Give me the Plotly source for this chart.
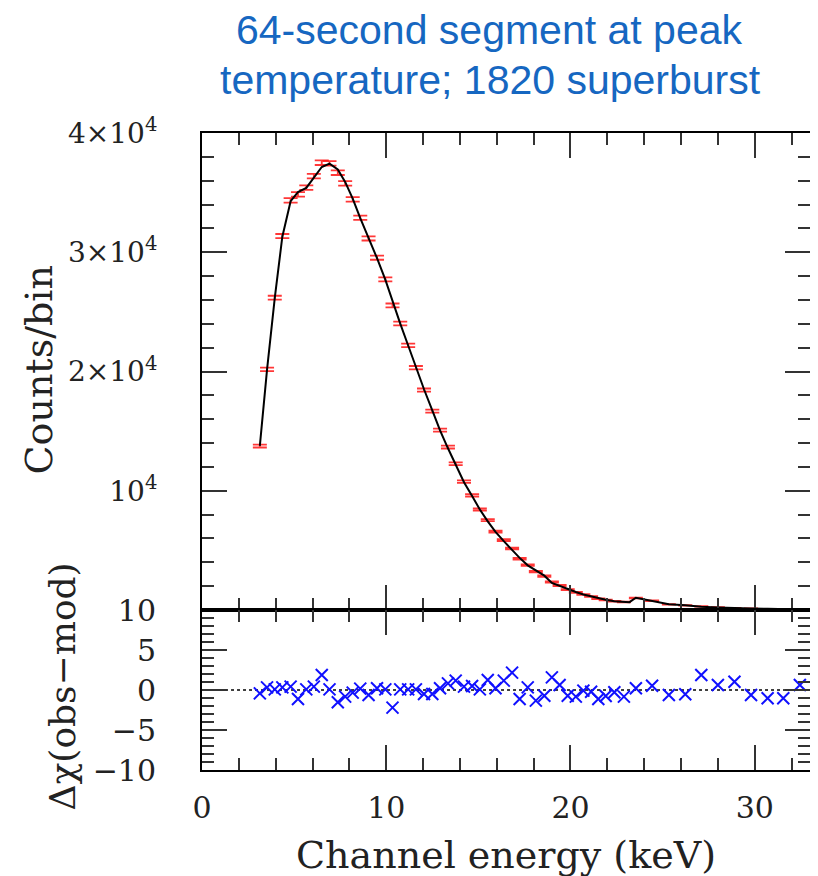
import plotly.graph_objects as go

# ---- data ----
energy = [3.14, 3.53, 3.95, 4.36, 4.81, 5.21, 5.66, 6.07, 6.50, 6.92,
          7.37, 7.77, 8.18, 8.59, 9.04, 9.50, 9.95, 10.34, 10.76, 11.19,
          11.61, 12.05, 12.50, 12.92, 13.35, 13.77, 14.22, 14.66, 15.08, 15.51,
          15.93, 16.38, 16.83, 17.24, 17.68, 18.12, 18.58, 18.99, 19.41, 19.85,
          20.29, 20.70, 21.12, 21.51, 21.91, 22.38, 22.90, 23.55, 24.43, 25.34,
          26.23, 27.10, 28.00, 28.90, 29.80, 30.70, 31.55, 32.45]

counts = [13744, 20176, 26189, 31354, 34348, 34851, 35413, 36386, 37510, 37450,
          36671, 35774, 34432, 32898, 31162, 29543, 27723, 25543, 24020, 22188,
          20319, 18440, 16679, 15086, 13661, 12268, 10759, 9610, 8436, 7539,
          6566, 5862, 5166, 4302, 3765, 3212, 2843, 2340, 2050, 1700,
          1480, 1300, 1130, 950, 840, 730, 665, 1010, 780, 470,
          386, 300, 218, 159, 120, 90, 65, 45]

count_err = [117, 142, 162, 177, 185, 187, 188, 191, 194, 194,
             192, 189, 186, 181, 177, 172, 166, 160, 155, 149,
             143, 136, 129, 123, 117, 111, 104, 98, 92, 87,
             81, 77, 72, 66, 61, 57, 53, 48, 45, 41,
             38, 36, 34, 31, 29, 27, 26, 32, 28, 22,
             20, 17, 15, 13, 11, 9, 8, 7]

model_energy = [3.14, 3.53, 3.95, 4.36, 4.81, 5.21, 5.66, 6.07, 6.50, 6.92,
                7.37, 7.77, 8.18, 8.59, 9.04, 9.50, 9.95, 10.34, 10.76, 11.19,
                11.61, 12.05, 12.50, 12.92, 13.35, 13.77, 14.22, 14.66, 15.08, 15.51,
                15.93, 16.38, 16.83, 17.24, 17.68, 18.12, 18.58, 18.99, 19.41, 19.85,
                20.29, 20.70, 21.12, 21.51, 21.91, 22.38, 22.90, 23.20, 23.55, 24.00,
                24.43, 25.34, 26.23, 27.10, 28.00, 28.90, 29.80, 30.70, 31.55, 32.45]

model_counts = [13760, 20150, 26180, 31300, 34280, 35050, 35400, 36300, 37150, 37430,
                36950, 35900, 34500, 32870, 31270, 29500, 27710, 25900, 24010, 22180,
                20310, 18510, 16740, 15060, 13560, 12140, 10715, 9560, 8430, 7430,
                6550, 5770, 5010, 4370, 3745, 3290, 2880, 2270, 2020, 1730,
                1510, 1300, 1135, 985, 860, 738, 690, 660, 1030, 880,
                770, 482, 395, 268, 210, 148, 126, 100, 73, 41]

residual = [-0.42, 0.33, 0.08, 0.33, 0.42, -1.12, 0.08, 0.42, 1.87, 0.08,
            -1.54, -0.83, -0.33, 0.17, -0.62, 0.21, 0.08, -2.20, 0.08, 0.08,
            0.08, -0.50, -0.50, 0.21, 0.83, 1.17, 0.42, 0.50, 0.08, 1.25,
            0.21, 1.17, 2.17, -1.12, 0.33, -1.33, -0.71, 1.58, 0.62, -0.71,
            -0.83, -0.08, -0.21, -1.12, -0.75, -0.29, -0.83, 0.21, 0.54, -0.62,
            -0.54, 1.87, 0.62, 1.04, -0.62, -1.04, -1.04, 0.62]

count_tickvals = [10000, 20000, 30000, 40000]
count_ticktext = ["10<sup>4</sup>", "2×10<sup>4</sup>", "3×10<sup>4</sup>", "4×10<sup>4</sup>"]
resid_tickvals = [-10, -5, 0, 5, 10]
resid_ticktext = ["−10", "−5", "0", "5", "10"]

TITLE_1 = "64-second segment at peak"
TITLE_2 = "temperature; 1820 superburst"
XTITLE = "Channel energy (keV)"
YTITLE = "Counts/bin"
Y2TITLE = "Δχ(obs−mod)"

# ---- figure (page body adds an 8px offset, so figure is 8px smaller) ----
W, H = 810, 868
L, R, T, B = 194, 6, 125, 106
PW, PH = W - L - R, H - T - B          # 610 x 637
split = 160 / PH


def px_x(xr):  # reference-picture x -> paper
    return (xr - 8 - L) / PW


def px_y(yr):  # reference-picture y -> paper
    return (H - B - (yr - 8)) / PH


fig = go.Figure()
fig.add_trace(go.Scatter(
    x=energy, y=counts, mode="markers",
    marker=dict(size=1, color="rgba(0,0,0,0)"),
    error_y=dict(type="data", array=count_err, visible=True,
                 color="rgba(255,20,20,0.85)", thickness=1.8, width=7),
    xaxis="x", yaxis="y", showlegend=False, hoverinfo="skip"))
fig.add_trace(go.Scatter(
    x=model_energy, y=model_counts, mode="lines",
    line=dict(color="black", width=2),
    xaxis="x", yaxis="y", showlegend=False))
fig.add_trace(go.Scatter(
    x=energy, y=residual, mode="markers",
    marker=dict(symbol="x-thin", size=12, line=dict(color="#1010ff", width=2)),
    xaxis="x2", yaxis="y2", showlegend=False))

axis_common = dict(
    ticks="inside", tickwidth=2, tickcolor="#333", ticklen=25,
    showline=True, linecolor="black", linewidth=2, mirror="allticks",
    showgrid=False, zeroline=False,
)
minor_common = dict(ticks="inside", ticklen=12, tickwidth=2, tickcolor="#333", showgrid=False)

fig.update_layout(
    width=W, height=H,
    margin=dict(l=L, r=R, t=T, b=B),
    paper_bgcolor="white", plot_bgcolor="white",
    font=dict(family="DejaVu Serif", size=30, color="#222"),
    xaxis=dict(domain=[0, 1], anchor="y", range=[0, 33], matches="x2",
               showticklabels=False, tickmode="linear", tick0=0, dtick=10,
               minor=dict(tick0=0, dtick=2, **minor_common),
               **axis_common),
    yaxis=dict(domain=[split, 1], anchor="x", range=[0, 40000],
               tickmode="array", tickvals=count_tickvals, ticktext=count_ticktext,
               ticklabelstandoff=37, tickfont=dict(size=28),
               minor=dict(tickmode="linear", tick0=0, dtick=2000, **minor_common),
               **axis_common),
    xaxis2=dict(domain=[0, 1], anchor="y2", range=[0, 33],
                tickmode="linear", tick0=0, dtick=10, ticklabelstandoff=10,
                minor=dict(tick0=0, dtick=2, **minor_common),
                **axis_common),
    yaxis2=dict(domain=[0, split], anchor="x2", range=[-10, 10],
                tickmode="array", tickvals=resid_tickvals, ticktext=resid_ticktext,
                ticklabelstandoff=38,
                minor=dict(tickmode="linear", tick0=0, dtick=1, **minor_common),
                **axis_common),
    shapes=[dict(type="line", xref="x2", yref="y2", x0=1.25, x1=33, y0=0, y1=0,
                 line=dict(color="black", width=1.5, dash="dot"), layer="below")],
    annotations=[
        dict(text=TITLE_1, xref="paper", yref="paper", x=px_x(490), y=px_y(30),
             showarrow=False, xanchor="center", yanchor="middle",
             font=dict(family="Liberation Sans", size=41, color="rgb(22,103,193)")),
        dict(text=TITLE_2, xref="paper", yref="paper", x=px_x(491), y=px_y(80),
             showarrow=False, xanchor="center", yanchor="middle",
             font=dict(family="Liberation Sans", size=41, color="rgb(22,103,193)")),
        dict(text=YTITLE, xref="paper", yref="paper", x=px_x(38), y=px_y(370),
             textangle=-90, showarrow=False, xanchor="center", yanchor="middle",
             font=dict(size=38)),
        dict(text=Y2TITLE, xref="paper", yref="paper", x=px_x(62), y=px_y(686),
             textangle=-90, showarrow=False, xanchor="center", yanchor="middle",
             font=dict(size=36)),
        dict(text=XTITLE, xref="paper", yref="paper", x=px_x(507), y=px_y(855),
             showarrow=False, xanchor="center", yanchor="middle",
             font=dict(size=38)),
    ],
)

fig.write_html("out.html")
